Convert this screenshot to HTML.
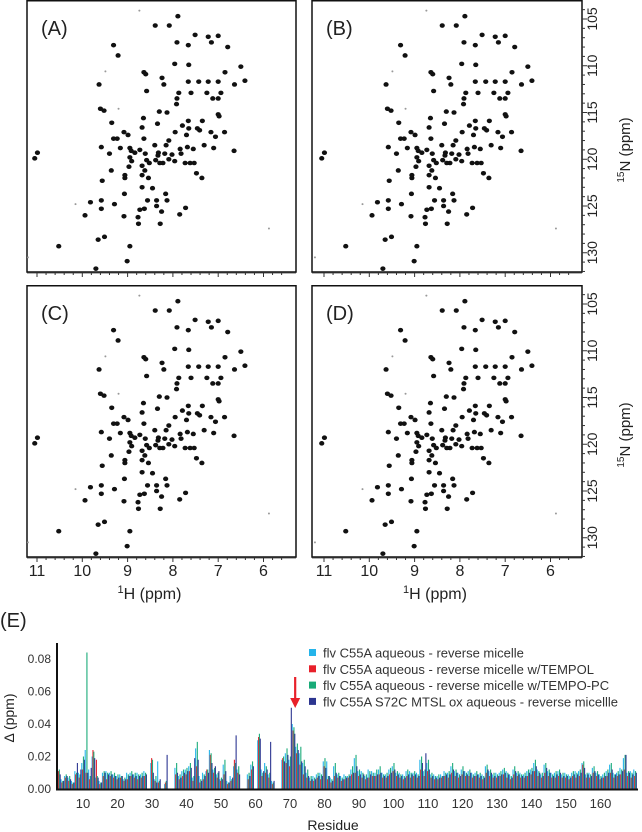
<!DOCTYPE html>
<html><head><meta charset="utf-8">
<style>
html,body{margin:0;padding:0;background:#fff;}
svg{display:block;font-family:"Liberation Sans",sans-serif;}
</style></head>
<body>
<svg id="fig" width="642" height="832" viewBox="0 0 642 832" xmlns="http://www.w3.org/2000/svg">
<g id="spectra"></g>
<g id="barchart"></g>
</svg>
<script>
// ---- HSQC peak data (ppm) ----
const peakH = [7.89,8.39,8.08,7.51,7.22,7.00,7.91,7.66,7.15,6.79,9.31,9.21,7.96,7.65,6.50,8.64,8.60,6.85,8.24,8.20,9.63,7.66,7.43,7.22,7.00,6.64,6.41,8.58,7.87,7.60,7.25,6.94,7.00,7.12,7.92,7.91,9.60,9.52,8.30,8.13,7.00,6.98,8.65,7.66,7.35,9.35,8.68,8.34,7.65,7.46,7.16,6.86,7.41,7.06,7.79,7.95,7.70,9.08,8.99,9.31,9.23,8.64,8.09,9.58,9.16,8.95,9.40,8.92,8.73,8.40,8.32,8.15,7.84,7.68,7.55,7.31,7.10,6.65,8.84,8.61,8.95,8.33,8.18,8.02,7.82,8.91,8.58,8.38,8.22,8.09,7.96,7.73,7.62,7.53,8.68,8.52,8.29,8.97,8.68,8.62,9.36,9.56,9.06,9.06,7.48,7.36,8.54,8.68,8.45,9.07,8.16,9.82,9.58,9.29,8.56,8.36,8.13,8.36,8.25,9.58,8.73,8.63,7.72,9.94,9.08,8.77,8.76,8.28,7.85,9.65,9.51,10.52,8.95,9.01,9.70,11.05,10.99];
const peakN = [104.7,105.7,105.7,106.7,106.9,106.8,107.5,107.8,107.5,108.0,107.8,108.9,109.8,109.9,110.1,110.7,110.9,110.7,111.3,112.0,112.0,111.7,111.7,111.7,111.7,112.0,111.6,112.7,112.9,112.9,112.9,112.9,113.5,113.5,114.1,113.5,114.6,114.8,114.9,115.0,115.2,115.4,115.6,115.9,115.9,116.1,116.6,116.2,116.7,116.7,117.1,117.1,116.9,117.6,116.4,117.1,117.4,117.1,117.4,117.8,117.8,117.8,118.0,118.7,118.8,118.8,119.4,119.1,119.0,118.5,119.3,118.5,118.9,118.7,118.9,118.5,118.8,119.1,119.3,119.4,119.8,119.6,119.4,119.5,119.4,120.2,120.1,120.1,120.4,120.0,120.2,120.4,120.4,120.4,120.7,120.4,120.4,120.8,121.7,121.2,121.2,122.3,122.0,121.7,121.5,122.0,122.0,123.0,123.1,123.7,123.7,124.6,124.4,124.8,124.4,124.4,124.4,125.0,125.6,125.3,125.4,125.3,125.2,126.0,126.1,126.2,126.9,126.9,125.9,128.6,128.3,129.3,129.3,130.9,131.7,119.9,119.3];
const faintH = [10.15,8.74,9.49,6.64,11.2,9.20,5.88];
const faintN = [124.8,104.1,110.6,112.0,130.5,114.6,127.4];
const hTicks = [11,10,9,8,7,6];
const nTicks = [105,110,115,120,125,130];
const panelLabels = ["(A)","(B)","(C)","(D)"];

// ---- Bar chart data ----
const residueStart = 3;
const seriesNames = ["flv C55A aqueous - reverse micelle","flv C55A aqueous - reverse micelle w/TEMPOL","flv C55A aqueous - reverse micelle w/TEMPO-PC","flv C55A S72C MTSL ox aqueous - reverse micellle"];
const seriesColors = ["#25b4ea","#e8202a","#19ab78","#2c3590"];
// values in units of 0.001 ppm, residues 3..170
const cyanVals = [10,6,8,7,5,11,10,16,24,12, 20,7,5,10,11,10,9,8,9,6, 10,10,9,10,9,11,0,16,6,17, 0,3,0,0,13,8,11,12,14,7, 25,8,10,11,24,12,9,6,15,5, 8,14,12,0,0,9,15,0,30,12, 16,9,5,0,0,18,22,18,40,26, 22,16,10,7,8,9,10,17,17,7, 14,9,8,9,8,12,19,11,11,8, 12,11,10,12,10,9,12,14,10,10, 9,11,11,10,10,18,11,16,9,9, 8,9,11,10,14,11,10,12,11,11, 10,10,9,9,14,11,9,10,10,12, 11,9,12,10,10,9,11,12,16,12, 9,15,11,10,10,11,9,10,9,10, 11,11,16,9,10,13,10,9,9,11, 15,10,10,13,19,10,11,12];
const redVals = [11,4,7,5,3,9,7,12,10,6, 24,18,3,8,6,8,7,6,7,5, 6,8,7,6,7,8,0,19,5,4, 0,4,0,0,9,6,8,9,11,5, 14,4,6,12,21,10,7,5,9,3, 5,18,10,0,0,6,12,0,32,8, 10,7,3,0,0,19,16,14,36,22, 15,9,7,5,5,7,6,14,6,4, 8,7,5,6,7,9,10,8,7,6, 7,8,8,9,7,7,9,11,8,7, 6,8,7,8,7,12,8,11,7,6, 6,7,8,7,10,8,7,9,8,8, 7,8,7,6,10,8,7,7,8,9, 7,6,9,8,7,7,8,9,11,8, 7,10,8,7,7,8,7,7,6,8, 7,8,15,7,7,10,8,6,7,8, 10,7,8,9,12,8,7,8];
const greenVals = [12,5,9,8,4,10,9,20,84,8, 23,8,4,11,10,11,10,9,8,7, 9,11,10,9,10,10,0,18,8,5, 0,5,0,0,16,9,12,13,16,8, 29,6,9,12,22,13,10,7,18,4, 6,16,14,0,0,10,17,0,34,10, 14,10,4,0,0,20,25,20,38,28, 26,18,12,8,7,10,9,19,8,6, 16,10,7,8,9,14,21,12,10,9, 11,10,12,14,9,10,13,16,11,9, 8,12,10,11,9,20,12,18,10,8, 9,8,10,11,16,12,9,14,10,12, 9,11,10,8,15,12,10,9,11,13, 10,8,14,11,9,10,12,13,18,11, 10,16,12,9,11,12,10,9,8,11, 10,12,17,10,9,14,11,8,10,12, 16,9,11,12,21,11,10,11];
const navyVals = [9,5,8,6,4,16,12,18,10,13, 19,7,4,10,9,9,8,7,8,6, 8,9,8,8,8,9,0,10,4,6, 0,21,0,0,10,7,10,11,13,19, 18,5,8,10,16,14,11,6,11,4, 7,33,9,0,0,8,14,0,31,11, 12,29,5,0,0,17,21,50,34,24, 17,14,8,6,6,8,8,13,8,5, 10,8,6,7,8,10,14,9,9,7, 9,8,9,10,8,8,10,12,9,8, 7,9,9,9,8,16,22,12,8,7, 7,8,9,9,12,10,8,11,9,10, 8,9,8,7,12,10,8,8,9,10, 9,7,11,9,8,8,10,11,14,10, 8,13,10,8,9,10,8,8,7,9, 9,10,13,9,8,11,9,7,8,10, 12,9,9,11,21,10,9,10];
const yTicks = [0.00,0.02,0.04,0.06,0.08];
const xTicks = [10,20,30,40,50,60,70,80,90,100,110,120,130,140,150,160];
const arrowResidue = 71.5;

const NS = "http://www.w3.org/2000/svg";
function mk(tag, attrs, parent){ const e=document.createElementNS(NS,tag); for(const k in attrs) e.setAttribute(k,attrs[k]); parent.appendChild(e); return e; }

// ---- Spectra ----
const spec = document.getElementById('spectra');
const panels = [
  {x0:27,x1:296,y0:0,y1:272,h11:37},
  {x0:312,x1:582,y0:0,y1:272,h11:324},
  {x0:27,x1:296,y0:285,y1:557,h11:37},
  {x0:312,x1:582,y0:285,y1:557,h11:324}
];
const hPx = 45.3, nPx = 9.35;
panels.forEach((p,i)=>{
  const xs = h => p.h11 + (11-h)*hPx;
  const ys = n => p.y0 + 19 + (n-105)*nPx;
  const g = mk('g',{},spec);
  
  
  const box = mk('rect',{x:p.x0,y:p.y0+0.75,width:p.x1-p.x0,height:p.y1-p.y0-0.75,fill:'none',stroke:'#111','stroke-width':1.5},g);
  
  
  const lab = mk('text',{x:p.x0+14,y:p.y0+35,'font-size':20,fill:'#222'},g);
  lab.textContent = panelLabels[i];
  
  
  for(let k=0;k<faintH.length;k++){
    const c = mk('circle',{cx:xs(faintH[k]),cy:ys(faintN[k]),r:1,fill:'#999'},g);
    
    
  }
  for(let k=0;k<peakH.length;k++){
    const cx=xs(peakH[k]), cy=ys(peakN[k]);
    if(cx<p.x0||cx>p.x1||cy<p.y0||cy>p.y1) continue;
    const c = mk('ellipse',{cx:cx,cy:cy,rx:2.6,ry:2.3,fill:'#111'},g);
    
    
  }
  for(let h=11;h>=5.5;h-=0.2){
    const x=xs(h); if(x<p.x0||x>p.x1) continue;
    const major = Math.abs(h-Math.round(h))<0.01;
    mk('line',{x1:x,x2:x,y1:p.y1+1,y2:p.y1+(major?5:3),stroke:'#333','stroke-width':1},g);
  }
  mk('line',{x1:p.x0,x2:p.x1,y1:p.y1+1,y2:p.y1+1,stroke:'#333','stroke-width':0.8},g);
  if(i>=2){
    hTicks.forEach(h=>{
      const t = mk('text',{x:xs(h),y:p.y1+19,'font-size':16,'text-anchor':'middle',fill:'#222'},g);
      t.textContent = h;
      
      
    });
    const at = mk('text',{x:(p.x0+p.x1)/2-12,y:p.y1+42,'font-size':16,'text-anchor':'middle',fill:'#222'},g);
    at.innerHTML = '<tspan font-size="11" dy="-6">1</tspan><tspan dy="6">H (ppm)</tspan>';
    
    
  }
  if(i%2===1){
    for(let n=104;n<=133;n++){
      const y=ys(n); if(y<p.y0||y>p.y1) continue;
      const major = n%5===0;
      mk('line',{x1:p.x1,x2:p.x1+(major?5:3),y1:y,y2:y,stroke:'#333','stroke-width':1},g);
    }
    nTicks.forEach(n=>{
      const t = mk('text',{x:0,y:0,'font-size':14,'text-anchor':'middle',fill:'#222',transform:`translate(${p.x1+15},${ys(n)}) rotate(-90)`},g);
      t.textContent = n;
      
      
    });
    const nt = mk('text',{x:0,y:0,'font-size':15,'text-anchor':'middle',fill:'#222',transform:`translate(${p.x1+48},${p.y0+150}) rotate(-90)`},g);
    nt.innerHTML = '<tspan font-size="10" dy="-6">15</tspan><tspan dy="6">N (ppm)</tspan>';
    
    
  }
});

// ---- Bar chart ----
const bc = document.getElementById('barchart');
const xRes = r => 83 + (r-10)*3.45;
const yVal = v => 789 - v*1625;
const eLab = mk('text',{x:0,y:627,'font-size':20,fill:'#222'},bc);
eLab.textContent='(E)';


const allSeries = [cyanVals,redVals,greenVals,navyVals];
const seriesKeys = ['cyan','red','green','navy'];
allSeries.forEach((vals,s)=>{
  const g = mk('g',{'fill-opacity':0.95},bc);
  
  
  vals.forEach((v,k)=>{
    if(!v) return;
    const r = residueStart + k;
    const x = xRes(r) - 1.8 + s*0.85;
    const y = yVal(v/1000);
    const b = mk('rect',{x:x,y:y,width:1.15,height:789-y,fill:seriesColors[s]},g);
    
    
  });
});
const yAxis = mk('line',{x1:57,x2:57,y1:643,y2:790,stroke:'#111','stroke-width':2},bc);


const xAxis = mk('line',{x1:56,x2:638,y1:789.5,y2:789.5,stroke:'#111','stroke-width':2},bc);


yTicks.forEach(v=>{
  const t = mk('text',{x:51,y:yVal(v)+4,'font-size':12,'text-anchor':'end',fill:'#333'},bc);
  t.textContent = v.toFixed(2);
  
  
});
xTicks.forEach(r=>{
  const t = mk('text',{x:xRes(r),y:808,'font-size':13,'text-anchor':'middle',fill:'#333'},bc);
  t.textContent = r;
  
  
});
const xt = mk('text',{x:333,y:830,'font-size':14,'text-anchor':'middle',fill:'#222'},bc);
xt.textContent='Residue';


const yt = mk('text',{x:0,y:0,'font-size':14,'text-anchor':'middle',fill:'#222',transform:'translate(14,718) rotate(-90)'},bc);
yt.textContent='Δ (ppm)';


const ax = xRes(arrowResidue);
const arr = mk('g',{},bc);


mk('line',{x1:ax,x2:ax,y1:677,y2:700,stroke:'#e8202a','stroke-width':2.2},arr);
mk('polygon',{points:`${ax-5},698 ${ax+5},698 ${ax},708`,fill:'#e8202a'},arr);
seriesNames.forEach((name,s)=>{
  const y = 653 + s*16.3;
  const g = mk('g',{},bc);
  
  
  mk('rect',{x:309,y:y-4,width:7,height:7,fill:seriesColors[s]},g);
  const t = mk('text',{x:323,y:y+4.5,'font-size':13,fill:'#333'},g);
  t.textContent = name;
});
</script>
</body></html>
